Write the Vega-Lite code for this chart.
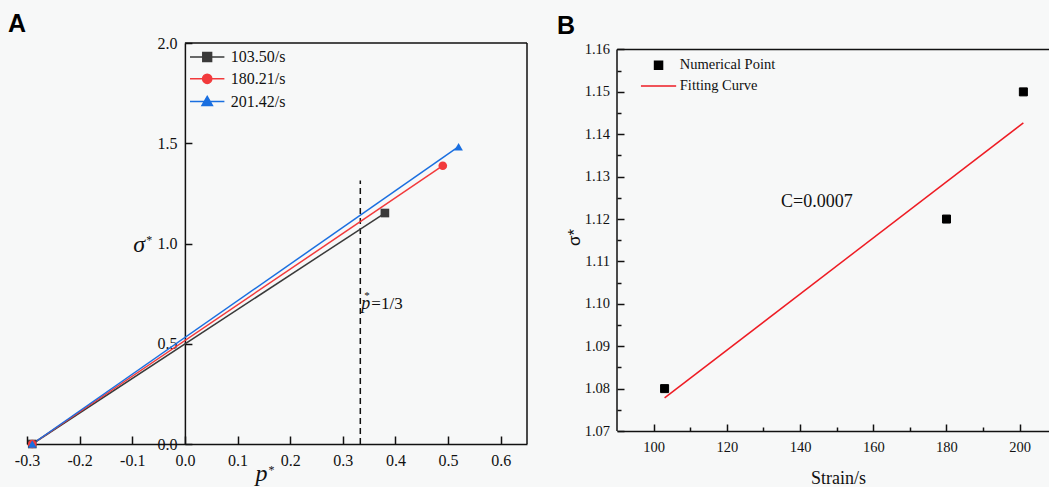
{
  "$schema": "https://vega.github.io/schema/vega-lite/v6.json",
  "background": "#f7f8f8",
  "padding": {"left": 8, "top": 12, "right": 0, "bottom": 0},
  "spacing": 29,
  "resolve": {"scale": {"x": "independent", "y": "independent", "color": "independent", "fill": "independent", "stroke": "independent", "shape": "independent"}, "legend": {"color": "independent", "fill": "independent", "stroke": "independent", "shape": "independent"}},
  "config": {
    "view": {"stroke": null},
    "axis": {"grid": false, "labelFont": "Liberation Serif", "labelColor": "#111", "domainColor": "#111", "tickColor": "#111", "domainWidth": 1.5, "tickWidth": 1.5, "titleFont": "Liberation Serif", "titleColor": "#111", "titleFontWeight": "normal", "labelOverlap": false, "labelFlush": false},
    "title": {"font": "Liberation Sans", "fontSize": 25, "fontWeight": "bold", "color": "#000", "anchor": "start", "frame": "group"},
    "text": {"font": "Liberation Serif", "color": "#111"}
  },
  "datasets": {
    "lines": [
      {"series": "103.50/s", "p": -0.29, "s": 0},
      {"series": "103.50/s", "p": 0.38, "s": 1.152},
      {"series": "180.21/s", "p": -0.29, "s": 0},
      {"series": "180.21/s", "p": 0.49, "s": 1.388},
      {"series": "201.42/s", "p": -0.29, "s": 0},
      {"series": "201.42/s", "p": 0.52, "s": 1.483}
    ],
    "pts": [
      {"strain": 103, "sigma": 1.08, "type": "Numerical Point"},
      {"strain": 180, "sigma": 1.12, "type": "Numerical Point"},
      {"strain": 201, "sigma": 1.15, "type": "Numerical Point"}
    ],
    "fit": [
      {"strain": 103, "sigma": 1.0778},
      {"strain": 201, "sigma": 1.1427}
    ]
  },
  "hconcat": [
    {
      "width": 500,
      "height": 401,
      "title": {"text": "A", "dx": -19, "offset": -2},
      "resolve": {"scale": {"shape": "independent", "fill": "independent", "stroke": "independent"}, "legend": {"shape": "independent", "fill": "independent", "stroke": "independent"}, "axis": {"x": "independent", "y": "independent"}},
      "layer": [
        {
          "data": {"values": [{}]},
          "mark": {"type": "rule", "color": "#111", "strokeWidth": 1.5},
          "encoding": {
            "x": {"datum": 0, "type": "quantitative", "scale": {"domain": [-0.3, 0.65], "nice": false, "zero": false}, "axis": null},
            "x2": {"datum": 0.65},
            "y": {"datum": 2, "type": "quantitative", "scale": {"domain": [0, 2], "nice": false, "zero": false}, "axis": null}
          }
        },
        {
          "data": {"values": [{}]},
          "mark": {"type": "rule", "color": "#111", "strokeWidth": 1.5},
          "encoding": {
            "x": {"datum": 0.65, "type": "quantitative", "scale": {"domain": [-0.3, 0.65], "nice": false, "zero": false}, "axis": null},
            "y": {"datum": 0, "type": "quantitative", "scale": {"domain": [0, 2], "nice": false, "zero": false}, "axis": null},
            "y2": {"datum": 2}
          }
        },
        {
          "data": {"values": [{}]},
          "mark": {"type": "rule", "color": "#111", "strokeWidth": 1.5, "strokeDash": [6, 4]},
          "encoding": {
            "x": {"datum": 0.3333, "type": "quantitative", "scale": {"domain": [-0.3, 0.65], "nice": false, "zero": false}, "axis": null},
            "y": {"datum": 0, "type": "quantitative", "scale": {"domain": [0, 2], "nice": false, "zero": false}, "axis": null},
            "y2": {"datum": 1.314}
          }
        },
        {
          "data": {"name": "lines"},
          "mark": {"type": "line", "strokeWidth": 1.5},
          "encoding": {
            "x": {"field": "p", "type": "quantitative", "scale": {"domain": [-0.3, 0.65], "nice": false, "zero": false},
              "axis": {"orient": "bottom", "values": [-0.3, -0.2, -0.1, 0, 0.1, 0.2, 0.3, 0.4, 0.5, 0.6], "format": ".1f", "labelExpr": "replace(datum.label, '\u2212', '-')", "tickSize": -8, "labelPadding": 16, "labelFontSize": 16, "title": null}},
            "y": {"field": "s", "type": "quantitative", "scale": {"domain": [0, 2], "nice": false, "zero": false},
              "axis": {"orient": "left", "values": [0, 0.5, 1, 1.5, 2], "format": ".1f", "offset": -157.9, "tickSize": -7, "labelPadding": 15, "labelFontSize": 16, "title": null}},
            "color": {"field": "series", "type": "nominal", "scale": {"domain": ["103.50/s", "180.21/s", "201.42/s"], "range": ["#3a3a3a", "#f23a3c", "#1a6fe0"]}, "legend": null}
          }
        },
        {
          "data": {"name": "lines"},
          "mark": {"type": "point", "filled": true, "opacity": 1, "size": 75},
          "encoding": {
            "x": {"field": "p", "type": "quantitative", "scale": {"domain": [-0.3, 0.65], "nice": false, "zero": false}, "axis": null},
            "y": {"field": "s", "type": "quantitative", "scale": {"domain": [0, 2], "nice": false, "zero": false}, "axis": null},
            "color": {"field": "series", "type": "nominal", "scale": {"domain": ["103.50/s", "180.21/s", "201.42/s"], "range": ["#3a3a3a", "#f23a3c", "#1a6fe0"]}, "legend": null},
            "shape": {"field": "series", "type": "nominal", "scale": {"domain": ["103.50/s", "180.21/s", "201.42/s"], "range": ["square", "circle", "triangle-up"]}, "legend": null}
          }
        },
        {
          "data": {"name": "lines"},
          "mark": {"type": "point", "filled": true, "opacity": 0, "strokeWidth": 1.5},
          "encoding": {
            "x": {"field": "p", "type": "quantitative", "scale": {"domain": [-0.3, 0.65], "nice": false, "zero": false}, "axis": null},
            "y": {"field": "s", "type": "quantitative", "scale": {"domain": [0, 2], "nice": false, "zero": false}, "axis": null},
            "fill": {"field": "series", "type": "nominal", "scale": {"domain": ["103.50/s", "180.21/s", "201.42/s"], "range": ["#3a3a3a", "#f23a3c", "#1a6fe0"]},
              "legend": {"title": null, "orient": "none", "legendX": 172.2, "legendY": 6, "padding": 0, "rowPadding": 5.8, "labelOffset": 15.6, "labelFont": "Liberation Serif", "labelFontSize": 16, "labelColor": "#111", "symbolSize": 64, "symbolStrokeWidth": 1.5, "symbolOpacity": 1}},
            "stroke": {"field": "series", "type": "nominal", "scale": {"domain": ["103.50/s", "180.21/s", "201.42/s"], "range": ["#3a3a3a", "#f23a3c", "#1a6fe0"]},
              "legend": {"title": null, "orient": "none", "legendX": 172.2, "legendY": 6, "padding": 0, "rowPadding": 5.8, "labelOffset": 15.6, "labelFont": "Liberation Serif", "labelFontSize": 16, "labelColor": "#111", "symbolSize": 64, "symbolStrokeWidth": 1.5, "symbolOpacity": 1}},
            "shape": {"field": "series", "type": "nominal", "scale": {"domain": ["103.50/s", "180.21/s", "201.42/s"], "range": ["M-4.3,0H4.3M-1.1,-1.1H1.1V1.1H-1.1Z", "M-4.3,0H4.3M1.15,0A1.15,1.15,0,1,1,-1.15,0A1.15,1.15,0,1,1,1.15,0Z", "M-4.3,0H4.3M0,-1.3L1.3,1H-1.3Z"]},
              "legend": {"title": null, "orient": "none", "legendX": 172.2, "legendY": 6, "padding": 0, "rowPadding": 5.8, "labelOffset": 15.6, "labelFont": "Liberation Serif", "labelFontSize": 16, "labelColor": "#111", "symbolSize": 64, "symbolStrokeWidth": 1.5, "symbolOpacity": 1}}
          }
        },
        {
          "data": {"values": [{}]},
          "mark": {"type": "text", "text": "p", "fontStyle": "italic", "fontSize": 18, "align": "left", "baseline": "alphabetic", "dx": 1},
          "encoding": {
            "x": {"datum": 0.3333, "type": "quantitative", "scale": {"domain": [-0.3, 0.65], "nice": false, "zero": false}, "axis": null},
            "y": {"datum": 0.674, "type": "quantitative", "scale": {"domain": [0, 2], "nice": false, "zero": false}, "axis": null}
          }
        },
        {
          "data": {"values": [{}]},
          "mark": {"type": "text", "text": "*", "fontSize": 11, "align": "left", "baseline": "alphabetic", "dx": 4, "dy": -10},
          "encoding": {
            "x": {"datum": 0.3333, "type": "quantitative", "scale": {"domain": [-0.3, 0.65], "nice": false, "zero": false}, "axis": null},
            "y": {"datum": 0.674, "type": "quantitative", "scale": {"domain": [0, 2], "nice": false, "zero": false}, "axis": null}
          }
        },
        {
          "data": {"values": [{}]},
          "mark": {"type": "text", "text": "=1/3", "fontSize": 17, "align": "left", "baseline": "alphabetic", "dx": 11},
          "encoding": {
            "x": {"datum": 0.3333, "type": "quantitative", "scale": {"domain": [-0.3, 0.65], "nice": false, "zero": false}, "axis": null},
            "y": {"datum": 0.674, "type": "quantitative", "scale": {"domain": [0, 2], "nice": false, "zero": false}, "axis": null}
          }
        },
        {
          "data": {"values": [{}]},
          "mark": {"type": "text", "text": "σ", "fontStyle": "italic", "fontSize": 24, "align": "left", "baseline": "alphabetic"},
          "encoding": {
            "x": {"datum": -0.098, "type": "quantitative", "scale": {"domain": [-0.3, 0.65], "nice": false, "zero": false}, "axis": null},
            "y": {"datum": 0.956, "type": "quantitative", "scale": {"domain": [0, 2], "nice": false, "zero": false}, "axis": null}
          }
        },
        {
          "data": {"values": [{}]},
          "mark": {"type": "text", "text": "*", "fontSize": 12, "align": "left", "baseline": "alphabetic", "dx": 13, "dy": -8},
          "encoding": {
            "x": {"datum": -0.098, "type": "quantitative", "scale": {"domain": [-0.3, 0.65], "nice": false, "zero": false}, "axis": null},
            "y": {"datum": 0.956, "type": "quantitative", "scale": {"domain": [0, 2], "nice": false, "zero": false}, "axis": null}
          }
        },
        {
          "data": {"values": [{}]},
          "mark": {"type": "text", "text": "p", "fontStyle": "italic", "fontSize": 24, "align": "left", "baseline": "alphabetic"},
          "encoding": {
            "x": {"datum": 0.134, "type": "quantitative", "scale": {"domain": [-0.3, 0.65], "nice": false, "zero": false}, "axis": null},
            "y": {"datum": -0.183, "type": "quantitative", "scale": {"domain": [0, 2], "nice": false, "zero": false}, "axis": null}
          }
        },
        {
          "data": {"values": [{}]},
          "mark": {"type": "text", "text": "*", "fontSize": 12, "align": "left", "baseline": "alphabetic", "dx": 13, "dy": -7},
          "encoding": {
            "x": {"datum": 0.134, "type": "quantitative", "scale": {"domain": [-0.3, 0.65], "nice": false, "zero": false}, "axis": null},
            "y": {"datum": -0.183, "type": "quantitative", "scale": {"domain": [0, 2], "nice": false, "zero": false}, "axis": null}
          }
        }
      ]
    },
    {
      "width": 432,
      "height": 388,
      "title": {"text": "B", "dx": -60, "offset": 2.5},
      "resolve": {"axis": {"x": "independent", "y": "independent"}},
      "layer": [
        {
          "data": {"values": [{}]},
          "mark": {"type": "rule", "color": "#111", "strokeWidth": 1.5},
          "encoding": {
            "x": {"datum": 90, "type": "quantitative", "scale": {"domain": [90, 208], "nice": false, "zero": false},
              "axis": {"orient": "bottom", "values": [110, 130, 150, 170, 190], "labels": false, "domain": false, "tickSize": -4, "title": null}},
            "x2": {"datum": 208},
            "y": {"datum": 1.16, "type": "quantitative", "scale": {"domain": [1.07, 1.16153], "nice": false, "zero": false},
              "axis": {"orient": "left", "values": [1.075, 1.085, 1.095, 1.105, 1.115, 1.125, 1.135, 1.145, 1.155], "labels": false, "domain": false, "tickSize": -4, "title": null}}
          }
        },
        {
          "data": {"values": [{}]},
          "mark": {"type": "rule", "color": "#111", "strokeWidth": 1.5},
          "encoding": {
            "x": {"datum": 90, "type": "quantitative", "scale": {"domain": [90, 208], "nice": false, "zero": false}, "axis": null},
            "y": {"datum": 1.07, "type": "quantitative", "scale": {"domain": [1.07, 1.16153], "nice": false, "zero": false}, "axis": null},
            "y2": {"datum": 1.16}
          }
        },
        {
          "data": {"name": "fit"},
          "mark": {"type": "line", "color": "#ee1c24", "strokeWidth": 1.5},
          "encoding": {
            "x": {"field": "strain", "type": "quantitative", "scale": {"domain": [90, 208], "nice": false, "zero": false}, "axis": null},
            "y": {"field": "sigma", "type": "quantitative", "scale": {"domain": [1.07, 1.16153], "nice": false, "zero": false}, "axis": null}
          }
        },
        {
          "data": {"name": "pts"},
          "mark": {"type": "point", "filled": true, "opacity": 1, "size": 64, "strokeWidth": 1},
          "encoding": {
            "x": {"field": "strain", "type": "quantitative", "scale": {"domain": [90, 208], "nice": false, "zero": false},
              "axis": {"orient": "bottom", "values": [100, 120, 140, 160, 180, 200], "format": "d", "tickSize": -7, "labelPadding": 16, "labelFontSize": 14.5, "title": "Strain/s", "titleFontSize": 18, "titlePadding": 15.5, "titleX": 221, "titleAlign": "center"}},
            "y": {"field": "sigma", "type": "quantitative", "scale": {"domain": [1.07, 1.16153], "nice": false, "zero": false},
              "axis": {"orient": "left", "domain": false, "values": [1.07, 1.08, 1.09, 1.1, 1.11, 1.12, 1.13, 1.14, 1.15, 1.16], "format": ".2f", "tickSize": -7, "labelPadding": 14.4, "labelFontSize": 14.5, "title": "σ*", "titleFont": "Liberation Sans", "titleFontSize": 17, "titlePadding": 1}},
            "fill": {"field": "type", "type": "nominal", "scale": {"domain": ["Numerical Point", "Fitting Curve"], "range": ["#000000", "#ee1c24"]},
              "legend": {"title": null, "orient": "none", "legendX": 34.3, "legendY": 15, "padding": 0, "rowPadding": 4.7, "labelOffset": 14, "labelFont": "Liberation Serif", "labelFontSize": 14.5, "labelColor": "#111", "symbolSize": 64, "symbolStrokeWidth": 1.5, "symbolOpacity": 1}},
            "stroke": {"field": "type", "type": "nominal", "scale": {"domain": ["Numerical Point", "Fitting Curve"], "range": ["#000000", "#ee1c24"]},
              "legend": {"title": null, "orient": "none", "legendX": 34.3, "legendY": 15, "padding": 0, "rowPadding": 4.7, "labelOffset": 14, "labelFont": "Liberation Serif", "labelFontSize": 14.5, "labelColor": "#111", "symbolSize": 64, "symbolStrokeWidth": 1.5, "symbolOpacity": 1}},
            "shape": {"field": "type", "type": "nominal", "scale": {"domain": ["Numerical Point", "Fitting Curve"], "range": ["square", "M-4.4,0H4.4"]},
              "legend": {"title": null, "orient": "none", "legendX": 34.3, "legendY": 15, "padding": 0, "rowPadding": 4.7, "labelOffset": 14, "labelFont": "Liberation Serif", "labelFontSize": 14.5, "labelColor": "#111", "symbolSize": 64, "symbolStrokeWidth": 1.5, "symbolOpacity": 1}}
          }
        },
        {
          "data": {"values": [{}]},
          "mark": {"type": "text", "text": "C=0.0007", "fontSize": 18, "align": "center", "baseline": "middle"},
          "encoding": {
            "x": {"datum": 144.6, "type": "quantitative", "scale": {"domain": [90, 208], "nice": false, "zero": false}, "axis": null},
            "y": {"datum": 1.124, "type": "quantitative", "scale": {"domain": [1.07, 1.16153], "nice": false, "zero": false}, "axis": null}
          }
        }
      ]
    }
  ]
}
